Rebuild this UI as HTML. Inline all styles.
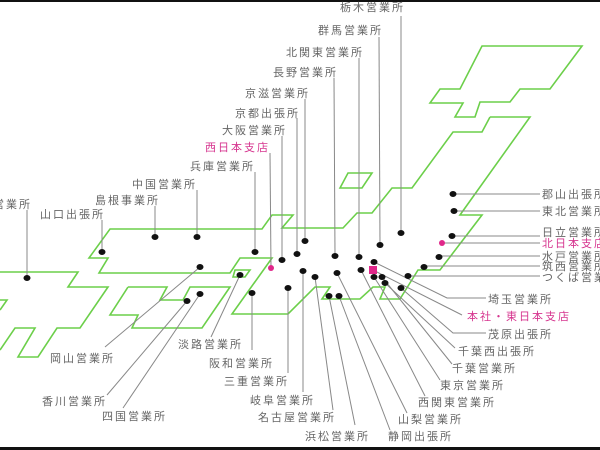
<!DOCTYPE html>
<html><head><meta charset="utf-8"><style>
html,body{margin:0;padding:0;background:#fff;}
svg{display:block;}
text{font-family:"Liberation Sans","Noto Sans CJK JP",sans-serif;font-size:11px;fill:#666;letter-spacing:2px;}
.p{fill:#d6358f;}
</style></head><body>
<svg width="600" height="450" viewBox="0 0 600 450" xmlns="http://www.w3.org/2000/svg">
<rect x="0" y="0" width="600" height="2" fill="#111"/>
<rect x="0" y="447" width="600" height="3" fill="#111"/>
<g fill="none" stroke="#6ccf4a" stroke-width="1.6" stroke-linejoin="miter">
<!-- Hokkaido -->
<polygon points="482,46 582,46 550,89 520,89 510,102 480,102 475,117 455,117 463,103 430,103 440,89 460,89"/>
<!-- Sado -->
<polygon points="340,188 348,173 372,173 362,188"/>
<!-- Honshu -->
<polyline points="490,117 530,117 460,215 482,215 440,270 418,270 400,299 380,299 385,287 373,287 360,299 322,299 330,287 315,287 288,314 232,314 272,258 240,258 230,273 99,273 108,258 89,258 110,229 262,229 272,215 293,215 282,228 343,228 357,213 372,213 392,188 412,188 453,132 482,132 490,117"/>
<!-- Awaji -->
<polygon points="235,270 250,270 245,277 233,277"/>
<!-- Shikoku -->
<polyline points="128,287 167,287 160,300 183,300 190,287 230,287 202,328 132,328 138,315 110,315 128,287"/>
<!-- Kyushu -->
<polyline points="0,272 78,272 68,287 108,287 80,328 57,328 38,357 18,357 35,328 15,328 0,350"/>
<polyline points="0,300 7,300 0,310"/>
</g>
<g stroke="#888" stroke-width="1" fill="none">
<!-- top vertical leaders -->
<line x1="401" y1="16" x2="401" y2="233"/>
<line x1="379" y1="37" x2="380" y2="245"/>
<line x1="359" y1="58" x2="359" y2="257"/>
<line x1="334" y1="78" x2="335" y2="256"/>
<line x1="305" y1="99" x2="305" y2="241"/>
<line x1="297" y1="118" x2="297" y2="254"/>
<line x1="282" y1="136" x2="282" y2="260"/>
<line x1="270" y1="153" x2="271" y2="268"/>
<line x1="255" y1="172" x2="255" y2="252"/>
<line x1="197" y1="190" x2="197" y2="237"/>
<line x1="155" y1="206" x2="155" y2="237"/>
<line x1="102" y1="220" x2="102" y2="252"/>
<line x1="27" y1="210" x2="27" y2="278"/>
<!-- right leaders -->
<line x1="453" y1="194" x2="540" y2="194"/>
<line x1="454" y1="211" x2="540" y2="211"/>
<line x1="452" y1="236" x2="540" y2="236"/>
<line x1="442" y1="243" x2="540" y2="243"/>
<line x1="439" y1="256" x2="540" y2="256"/>
<line x1="424" y1="266" x2="540" y2="266"/>
<line x1="408" y1="276" x2="540" y2="276"/>
<!-- lower-right leaders -->
<polyline points="374,262 447,298 486,298"/>
<polyline points="373,270 462,315"/>
<polyline points="401,288 453,333 486,333"/>
<polyline points="385,283 455,348"/>
<polyline points="382,277 452,364"/>
<polyline points="374,277 440,380"/>
<polyline points="361,270 425,396"/>
<polyline points="337,273 407,413"/>
<polyline points="339,296 390,430"/>
<polyline points="329,296 355,425"/>
<polyline points="315,277 333,410"/>
<line x1="303" y1="271" x2="303" y2="392"/>
<line x1="288" y1="288" x2="288" y2="373"/>
<line x1="252" y1="293" x2="252" y2="350"/>
<line x1="240" y1="275" x2="211" y2="337"/>
<line x1="200" y1="294" x2="123" y2="408"/>
<line x1="187" y1="301" x2="107" y2="395"/>
<line x1="200" y1="267" x2="105" y2="347"/>
</g>
<g fill="#111">
<ellipse cx="401" cy="233" rx="3.5" ry="3"/>
<ellipse cx="380" cy="245" rx="3.5" ry="3"/>
<ellipse cx="359" cy="257" rx="3.5" ry="3"/>
<ellipse cx="335" cy="256" rx="3.5" ry="3"/>
<ellipse cx="305" cy="241" rx="3.5" ry="3"/>
<ellipse cx="297" cy="254" rx="3.5" ry="3"/>
<ellipse cx="282" cy="260" rx="3.5" ry="3"/>
<ellipse cx="255" cy="252" rx="3.5" ry="3"/>
<ellipse cx="197" cy="237" rx="3.5" ry="3"/>
<ellipse cx="155" cy="237" rx="3.5" ry="3"/>
<ellipse cx="102" cy="252" rx="3.5" ry="3"/>
<ellipse cx="27" cy="278" rx="3.5" ry="3"/>
<ellipse cx="453" cy="194" rx="3.5" ry="3"/>
<ellipse cx="454" cy="211" rx="3.5" ry="3"/>
<ellipse cx="452" cy="236" rx="3.5" ry="3"/>
<ellipse cx="439" cy="257" rx="3.5" ry="3"/>
<ellipse cx="424" cy="267" rx="3.5" ry="3"/>
<ellipse cx="408" cy="276" rx="3.5" ry="3"/>
<ellipse cx="401" cy="288" rx="3.5" ry="3"/>
<ellipse cx="374" cy="262" rx="3.5" ry="3"/>
<ellipse cx="361" cy="270" rx="3.5" ry="3"/>
<ellipse cx="374" cy="277" rx="3.5" ry="3"/>
<ellipse cx="382" cy="277" rx="3.5" ry="3"/>
<ellipse cx="385" cy="283" rx="3.5" ry="3"/>
<ellipse cx="337" cy="273" rx="3.5" ry="3"/>
<ellipse cx="315" cy="277" rx="3.5" ry="3"/>
<ellipse cx="303" cy="271" rx="3.5" ry="3"/>
<ellipse cx="288" cy="288" rx="3.5" ry="3"/>
<ellipse cx="252" cy="293" rx="3.5" ry="3"/>
<ellipse cx="240" cy="275" rx="3.5" ry="3"/>
<ellipse cx="200" cy="267" rx="3.5" ry="3"/>
<ellipse cx="200" cy="294" rx="3.5" ry="3"/>
<ellipse cx="187" cy="301" rx="3.5" ry="3"/>
<ellipse cx="329" cy="296" rx="3.5" ry="3"/>
<ellipse cx="339" cy="296" rx="3.5" ry="3"/>
</g>
<g fill="#e0278a">
<circle cx="271" cy="268" r="3"/>
<circle cx="442" cy="243" r="3"/>
<rect x="369" y="266" width="8" height="8"/>
</g>
<!-- top labels -->
<text x="340" y="11">栃木営業所</text>
<text x="318" y="34">群馬営業所</text>
<text x="286" y="56">北関東営業所</text>
<text x="273" y="76">長野営業所</text>
<text x="245" y="97">京滋営業所</text>
<text x="235" y="117">京都出張所</text>
<text x="222" y="134">大阪営業所</text>
<text x="205" y="151" class="p">西日本支店</text>
<text x="190" y="170">兵庫営業所</text>
<text x="132" y="188">中国営業所</text>
<text x="95" y="204">島根事業所</text>
<text x="40" y="218">山口出張所</text>
<text x="-33" y="208">福岡営業所</text>
<!-- right labels -->
<text x="542" y="198">郡山出張所</text>
<text x="542" y="215">東北営業所</text>
<text x="542" y="236">日立営業所</text>
<text x="542" y="247" class="p">北日本支店</text>
<text x="542" y="260">水戸営業所</text>
<text x="542" y="270">筑西営業所</text>
<text x="542" y="281">つくば営業所</text>
<!-- lower right -->
<text x="488" y="303">埼玉営業所</text>
<text x="467" y="320" class="p">本社・東日本支店</text>
<text x="488" y="338">茂原出張所</text>
<text x="458" y="355">千葉西出張所</text>
<text x="452" y="372">千葉営業所</text>
<text x="440" y="389">東京営業所</text>
<text x="418" y="406">西関東営業所</text>
<text x="398" y="423">山梨営業所</text>
<text x="388" y="440">静岡出張所</text>
<text x="305" y="440">浜松営業所</text>
<text x="258" y="421">名古屋営業所</text>
<text x="250" y="404">岐阜営業所</text>
<text x="224" y="385">三重営業所</text>
<text x="209" y="367">阪和営業所</text>
<text x="178" y="348">淡路営業所</text>
<text x="50" y="362">岡山営業所</text>
<text x="42" y="405">香川営業所</text>
<text x="102" y="420">四国営業所</text>
</svg>
</body></html>
